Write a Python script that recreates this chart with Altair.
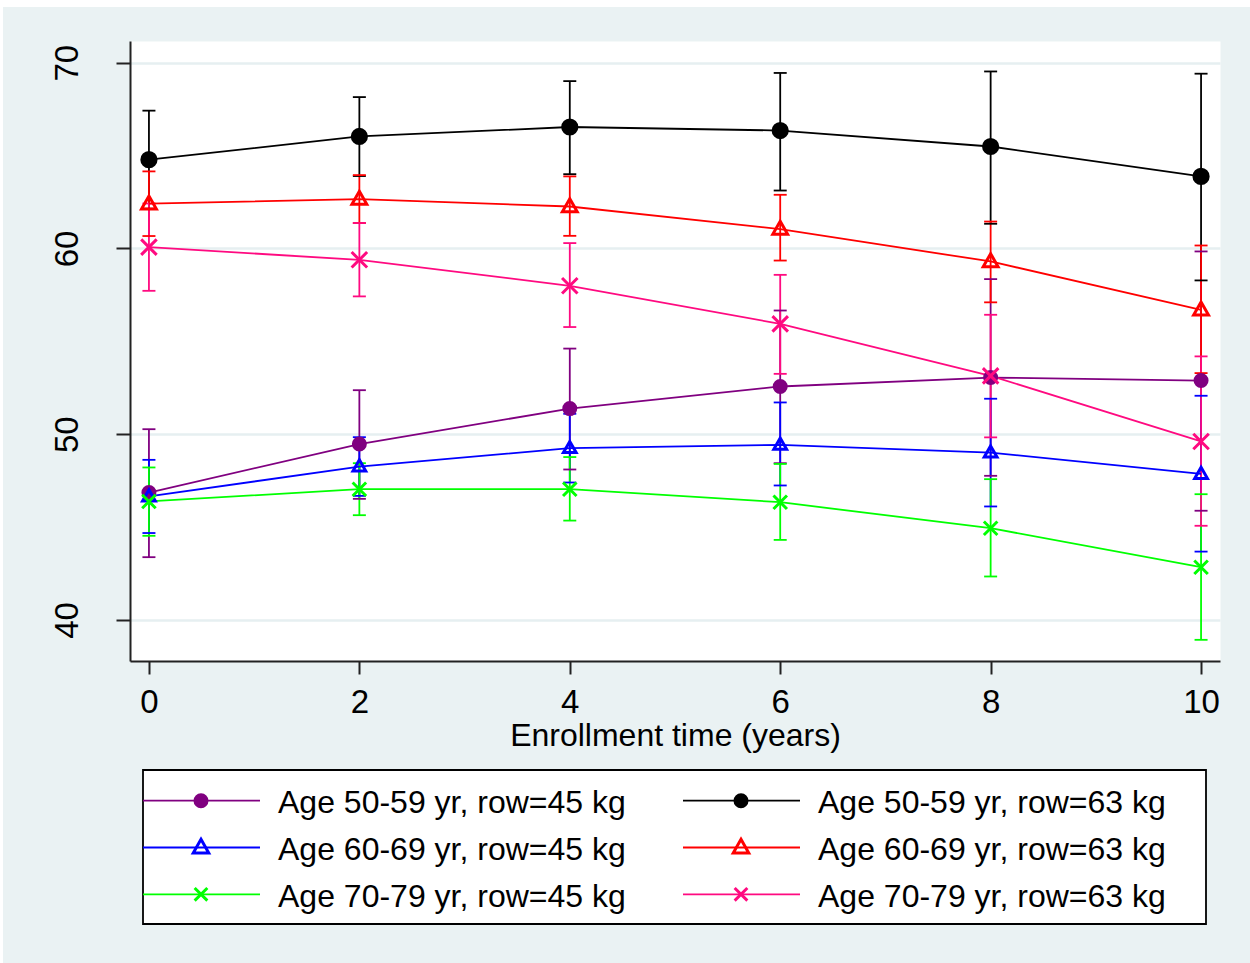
import altair as alt
import pandas as pd

# Follow-up time (years) at which each group was evaluated
years = [0, 2, 4, 6, 8, 10]

series_labels = [
    "Age 50-59 yr, row=45 kg",
    "Age 60-69 yr, row=45 kg",
    "Age 70-79 yr, row=45 kg",
    "Age 50-59 yr, row=63 kg",
    "Age 60-69 yr, row=63 kg",
    "Age 70-79 yr, row=63 kg",
]
series_colors = ["#800080", "#0000FF", "#00FF00", "#000000", "#FF0000", "#FF0A80"]
series_markers = ["circle", "triangle", "x", "circle", "triangle", "x"]

# Predicted means with lower / upper confidence limits
mean_a50_w45 = [46.86, 49.47, 51.38, 52.57, 53.05, 52.89]
lo_a50_w45 = [43.38, 46.52, 48.10, 48.44, 47.76, 45.88]
hi_a50_w45 = [50.27, 52.37, 54.61, 56.66, 58.35, 59.84]

mean_a60_w45 = [46.65, 48.26, 49.25, 49.43, 49.01, 47.86]
lo_a60_w45 = [44.68, 46.68, 47.40, 47.24, 46.11, 43.68]
hi_a60_w45 = [48.62, 49.84, 51.10, 51.71, 51.91, 52.07]

mean_a70_w45 = [46.38, 47.04, 47.04, 46.34, 44.94, 42.84]
lo_a70_w45 = [44.53, 45.64, 45.35, 44.31, 42.34, 38.93]
hi_a70_w45 = [48.21, 48.44, 48.77, 48.40, 47.58, 46.77]

mean_a50_w63 = [64.78, 66.03, 66.54, 66.35, 65.49, 63.88]
lo_a50_w63 = [62.14, 63.90, 64.00, 63.12, 61.33, 58.28]
hi_a50_w63 = [67.42, 68.15, 69.01, 69.45, 69.53, 69.41]

mean_a60_w63 = [62.41, 62.66, 62.26, 61.04, 59.30, 56.70]
lo_a60_w63 = [60.67, 61.37, 60.68, 59.35, 57.10, 53.29]
hi_a60_w63 = [64.15, 63.95, 63.88, 62.89, 61.45, 60.16]

mean_a70_w63 = [60.07, 59.39, 57.99, 55.94, 53.14, 49.61]
lo_a70_w63 = [57.72, 57.42, 55.77, 53.25, 49.83, 45.07]
hi_a70_w63 = [62.42, 61.37, 60.29, 58.58, 56.43, 54.19]

series_values = [
    (mean_a50_w45, lo_a50_w45, hi_a50_w45),
    (mean_a60_w45, lo_a60_w45, hi_a60_w45),
    (mean_a70_w45, lo_a70_w45, hi_a70_w45),
    (mean_a50_w63, lo_a50_w63, hi_a50_w63),
    (mean_a60_w63, lo_a60_w63, hi_a60_w63),
    (mean_a70_w63, lo_a70_w63, hi_a70_w63),
]

rows = []
for label, (m, lo, hi) in zip(series_labels, series_values):
    for t, mv, lv, hv in zip(years, m, lo, hi):
        rows.append({"series": label, "year": t, "mean": mv, "lo": lv, "hi": hv})
df = pd.DataFrame(rows)

# Marker glyphs (custom paths live in a -1..1 box)
MARKER_PATH = {
    "circle": "circle",
    "triangle": "M0,-1.05L1,0.7L-1,0.7Z",
    "x": "M-1,-1L1,1M-1,1L1,-1",
}
MARKER_SIZE = {"circle": 144, "triangle": 240, "x": 161}
CAP_PATH = "M-1,0L1,0"

FONT = "Liberation Sans"
W, H = 1090, 620
LINE_W = 1.8

x_axis = alt.Axis(
    values=years, tickSize=13, tickWidth=2, tickColor="#222222",
    domainColor="#222222", domainWidth=2, grid=False,
    labelFont=FONT, labelFontSize=33, labelColor="black", labelPadding=38.5,
    labelBaseline="alphabetic", labelFlush=False,
    title="Enrollment time (years)", titleFont=FONT, titleFontSize=32,
    titleFontWeight="normal", titleColor="black", titleBaseline="alphabetic",
    titleAlign="center", titleX=W / 2, titleY=84,
)
y_axis = alt.Axis(
    values=[40, 50, 60, 70], tickSize=14, tickWidth=2, tickColor="#222222",
    domainColor="#222222", domainWidth=2, grid=True, gridColor="#E6EFF1",
    gridWidth=2.5, labelFont=FONT, labelFontSize=33, labelColor="black",
    labelAngle=270, labelAlign="center", labelBaseline="alphabetic",
    labelPadding=39, title=None,
)
x_scale = alt.Scale(domain=[-0.18, 10.18], nice=False, zero=False)
y_scale = alt.Scale(domain=[37.79, 71.17], nice=False, zero=False)

color_scale = alt.Scale(domain=series_labels, range=series_colors)
shape_scale = alt.Scale(domain=series_labels, range=[MARKER_PATH[m] for m in series_markers])
size_scale = alt.Scale(domain=series_labels, range=[MARKER_SIZE[m] for m in series_markers])
fill_scale = alt.Scale(
    domain=series_labels,
    range=[c if m == "circle" else "transparent" for c, m in zip(series_colors, series_markers)],
)

X = alt.X("year:Q", scale=x_scale, axis=x_axis)


def Y(field):
    return alt.Y(f"{field}:Q", scale=y_scale, axis=y_axis)


base = alt.Chart(df)

ci_rules = base.mark_rule(strokeWidth=LINE_W).encode(
    x=X, y=Y("lo"), y2="hi:Q",
    color=alt.Color("series:N", scale=color_scale, legend=None),
)
caps_lo = base.mark_point(shape=CAP_PATH, size=169, strokeWidth=LINE_W, opacity=1, filled=False).encode(
    x=X, y=Y("lo"), stroke=alt.Stroke("series:N", scale=color_scale, legend=None),
)
caps_hi = base.mark_point(shape=CAP_PATH, size=169, strokeWidth=LINE_W, opacity=1, filled=False).encode(
    x=X, y=Y("hi"), stroke=alt.Stroke("series:N", scale=color_scale, legend=None),
)
lines = base.mark_line(strokeWidth=LINE_W).encode(
    x=X, y=Y("mean"),
    color=alt.Color("series:N", scale=color_scale, legend=None),
    detail="series:N",
)
markers = base.mark_point(opacity=1, strokeWidth=3).encode(
    x=X, y=Y("mean"),
    stroke=alt.Stroke("series:N", scale=color_scale, legend=None),
    fill=alt.Fill("series:N", scale=fill_scale, legend=None),
    shape=alt.Shape("series:N", scale=shape_scale, legend=None),
    size=alt.Size("series:N", scale=size_scale, legend=None),
)

one = alt.Data(values=[{}])

# thin white band along the top and left page edges
edge_top = alt.Chart(one).mark_rect(color="white").encode(
    x=alt.value(-130), x2=alt.value(1120), y=alt.value(-41), y2=alt.value(-34)
)
edge_left = alt.Chart(one).mark_rect(color="white").encode(
    x=alt.value(-130), x2=alt.value(-127), y=alt.value(-41), y2=alt.value(922)
)

# Key below the plot: two columns, three rows
KEY_LEFT, KEY_TOP, KEY_RIGHT, KEY_BOTTOM = 13, 729, 1076, 883
KEY_ROW0, KEY_ROW_STEP = 759.7, 46.8
KEY_COL_STEP = 540
KEY_LINE_FROM, KEY_LINE_TO, KEY_MARK_X, KEY_TEXT_X = 13, 130, 71, 148

key_box = alt.Chart(one).mark_rect(fill="white", stroke="black", strokeWidth=1.8).encode(
    x=alt.value(KEY_LEFT), x2=alt.value(KEY_RIGHT), y=alt.value(KEY_TOP), y2=alt.value(KEY_BOTTOM)
)

key_layers = [key_box]
for i, (label, color, marker) in enumerate(zip(series_labels, series_colors, series_markers)):
    col, row = divmod(i, 3)
    dx = col * KEY_COL_STEP
    ry = KEY_ROW0 + row * KEY_ROW_STEP
    key_layers.append(
        alt.Chart(one).mark_rule(color=color, strokeWidth=LINE_W).encode(
            x=alt.value(KEY_LINE_FROM + dx), x2=alt.value(KEY_LINE_TO + dx), y=alt.value(ry)
        )
    )
    key_layers.append(
        alt.Chart(one).mark_point(
            shape=MARKER_PATH[marker], size=MARKER_SIZE[marker], strokeWidth=3, opacity=1,
            stroke=color, fill=color if marker == "circle" else "transparent",
        ).encode(x=alt.value(KEY_MARK_X + dx), y=alt.value(ry))
    )
    key_layers.append(
        alt.Chart(one).mark_text(
            text=label, align="left", baseline="alphabetic", font=FONT, fontSize=32, color="black"
        ).encode(x=alt.value(KEY_TEXT_X + dx), y=alt.value(ry + 12.5))
    )

chart = alt.layer(
    edge_top, edge_left, ci_rules, caps_lo, caps_hi, lines, markers, *key_layers
).properties(
    width=W, height=H,
    autosize=alt.AutoSizeParams(type="none"),
    padding={"left": 130, "top": 41, "right": 30, "bottom": 302},
).configure(
    background="#EAF2F3", font=FONT,
).configure_view(
    fill="white", stroke="transparent",
)

chart.save("out.html", embed_options={"renderer": "svg", "actions": False})
